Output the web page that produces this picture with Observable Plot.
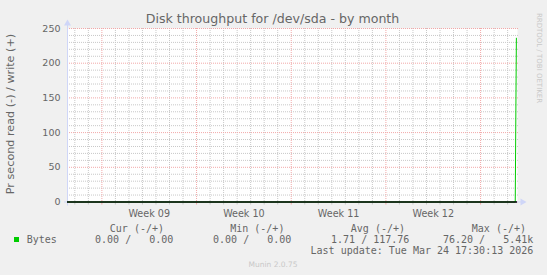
<!DOCTYPE html>
<html><head><meta charset="utf-8">
<script src="https://cdn.jsdelivr.net/npm/d3@7"></script>
<script src="https://cdn.jsdelivr.net/npm/@observablehq/plot@0.6"></script>
<style>
html,body{margin:0;padding:0;background:#f0f0f0;}
#wrap{position:relative;width:547px;height:275px;overflow:hidden;font-family:"DejaVu Sans",sans-serif;color:#666;}
#wrap svg{position:absolute;left:0;top:0;}
.abs{position:absolute;white-space:pre;line-height:1;}
.mono{font-family:"DejaVu Sans Mono",monospace;font-size:10px;line-height:11px;color:#666;}
</style></head><body><div id="wrap"></div>
<script>
// ---- data ----
const title = "Disk throughput for /dev/sda - by month";
const yLabel = "Pr second read (-) / write (+)";
const xStart = "2026-02-19T11:00:00Z";
const xEnd = "2026-03-24T17:30:00Z";
const weekStarts = ["2026-02-22", "2026-03-01", "2026-03-08", "2026-03-15", "2026-03-22"];
const weekLabels = ["Week 09", "Week 10", "Week 11", "Week 12"];
const yTicks = [0, 50, 100, 150, 200, 250];
const writeTimes = ["2026-02-19T11:00:00Z", "2026-03-24T13:30:00Z", "2026-03-24T15:30:00Z"];
const writeValues = [0, 0, 236];
const seriesName = "Bytes";
const legendHeaders = ["Cur (-/+)", "Min (-/+)", "Avg (-/+)", "Max (-/+)"];
const legendValues = ["0.00 /   0.00", "0.00 /   0.00", "1.71 / 117.76", "76.20 /   5.41k"];
const lastUpdate = "Last update: Tue Mar 24 17:30:13 2026";
const watermark = "RRDTOOL / TOBI OETIKER";
const footer = "Munin 2.0.75";

// ---- derived ----
const t0 = new Date(xStart), t1 = new Date(xEnd);
const weeks = weekStarts.map(d => new Date(d + "T00:00:00Z"));
const weekMids = weekLabels.map((_, i) => new Date(+weeks[i] + 3.5 * 864e5));
const days = d3.utcDay.range(t0, t1).filter(d => !weeks.some(w => +w === +d));
const minorY = d3.range(0, 251, 10).filter(v => v % 50 !== 0);
const write = writeTimes.map((t, i) => ({t: new Date(t), v: writeValues[i]}));

const GREEN = "#00cc00", AXIS = "#cfd6f8", GRID = "#c8c8c8", MGRID = "#f2a8a8";

const chart = Plot.plot({
  width: 547, height: 275,
  marginLeft: 67, marginRight: 30, marginTop: 28, marginBottom: 73.5,
  style: {fontFamily: "DejaVu Sans", color: "#666", background: "transparent", overflow: "visible"},
  x: {type: "utc", domain: [t0, t1], label: null},
  y: {domain: [0, 250], label: null},
  marks: [
    Plot.frame({fill: "white", stroke: "none"}),
    Plot.ruleY(minorY, {stroke: GRID, strokeDasharray: "1,1", insetRight: -2}),
    Plot.ruleX(days, {stroke: GRID, strokeDasharray: "1,1"}),
    Plot.ruleY(yTicks, {stroke: MGRID, strokeDasharray: "1,1", insetRight: -2}),
    Plot.ruleX(weeks, {stroke: MGRID, strokeDasharray: "1,1"}),
    Plot.axisX({ticks: days, tickSize: 3, tickFormat: () => "", stroke: GRID, label: null}),
    Plot.axisX({ticks: weeks, tickSize: 3, tickFormat: () => "", stroke: MGRID, label: null}),
    Plot.axisY({ticks: yTicks, tickSize: 0, tickPadding: 7, fontSize: 9.5, label: null}),
    Plot.axisX({ticks: weekMids, tickSize: 0, tickPadding: 8, fontSize: 9.6, label: null,
      tickFormat: (d, i) => weekLabels[i]}),
    Plot.ruleX([t0], {stroke: AXIS, insetTop: -6, insetBottom: -4}),
    Plot.ruleY([0], {stroke: AXIS, insetLeft: -3, insetRight: -5}),
    Plot.dot([t0], {x: d => d, y: () => 250, symbol: "triangle", fill: AXIS, r: 2.6, dy: -5}),
    Plot.dot([t1], {x: d => d, y: () => 0, symbol: "triangle", rotate: 90, fill: AXIS, r: 2.6, dx: 5}),
    Plot.line(write, {x: "t", y: "v", stroke: GREEN, strokeWidth: 1}),
    Plot.ruleY([0], {stroke: "#000", strokeWidth: 1.4})
  ]
});

const wrap = document.getElementById("wrap");
wrap.appendChild(chart);

function add(text, css, cls = "abs") {
  const el = document.createElement("div");
  el.className = cls;
  el.textContent = text;
  el.style.cssText = css;
  wrap.appendChild(el);
  return el;
}
// title
add(title, "left:-1px;width:547px;text-align:center;top:13px;font-size:12.6px;color:#666;");
// y label
add(yLabel, "left:10.6px;top:114.2px;font-size:11.2px;transform:translate(-50%,-50%) rotate(-90deg);");
// watermark
add(watermark, "left:538px;top:58px;font-size:7px;color:#c8c8c8;transform:translate(-50%,-50%) rotate(90deg);");
// legend
const headerEnds = [164, 284.4, 405, 526];
const valueEnds = [173.3, 291.3, 409.3, 533.3];
legendHeaders.forEach((h, i) => add(h, `right:${547 - headerEnds[i]}px;top:222.7px;`, "abs mono"));
legendValues.forEach((v, i) => add(v, `right:${547 - valueEnds[i]}px;top:233.7px;`, "abs mono"));
add(seriesName, "left:26.7px;top:233.7px;", "abs mono");
add("", `left:14px;top:237px;width:5px;height:5px;background:${GREEN};`);
add(lastUpdate, "right:13.7px;top:245.3px;", "abs mono");
// footer
add(footer, "left:0;width:546px;text-align:center;top:261px;font-size:7.5px;color:#c8c8c8;");
</script></body></html>
